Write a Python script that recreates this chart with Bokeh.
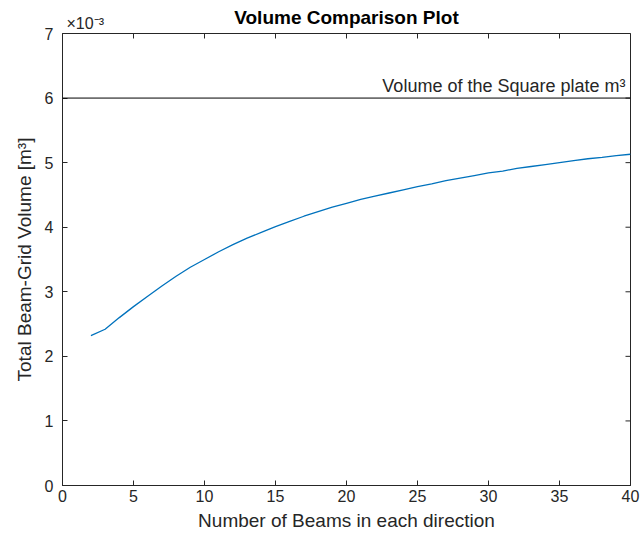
from bokeh.plotting import figure
from bokeh.models import Span, Label, Range1d, FixedTicker, LinearAxis
from bokeh.embed import file_html
from bokeh.resources import INLINE

# Data (volume in units of 1e-3 m^3)
beams = list(range(2, 41))
volume_e3 = [2.32, 2.42, 2.60, 2.77, 2.93, 3.09, 3.24, 3.38, 3.50, 3.62,
             3.73, 3.83, 3.92, 4.01, 4.09, 4.17, 4.24, 4.31, 4.37, 4.43,
             4.48, 4.53, 4.58, 4.63, 4.67, 4.72, 4.76, 4.80, 4.84, 4.87,
             4.91, 4.94, 4.97, 5.00, 5.03, 5.06, 5.08, 5.11, 5.13]
plate_volume_e3 = 6.0
x_ticks = [0, 5, 10, 15, 20, 25, 30, 35, 40]
y_ticks = [0, 1, 2, 3, 4, 5, 6, 7]
x_min, x_max = 0, 40
y_min, y_max = 0, 7
title_text = "Volume Comparison Plot"
exponent_text = "×10⁻³"
exponent_anchor = 1.6   # where the exponent marker is centred along the top edge

FONT = "Liberation Sans"
TXT = "#262626"

p = figure(width=643, height=542, output_backend="svg", toolbar_location=None,
           x_range=Range1d(x_min, x_max), y_range=Range1d(y_min, y_max),
           min_border_left=62, min_border_right=13, min_border_top=33,
           min_border_bottom=57)

p.xgrid.visible = False
p.ygrid.visible = False
p.outline_line_color = TXT
p.outline_line_width = 1
p.background_fill_color = "white"
p.border_fill_color = "white"

for ax in (p.xaxis[0], p.yaxis[0]):
    ax.major_tick_in = 5
    ax.major_tick_out = 0
    ax.minor_tick_in = 0
    ax.minor_tick_out = 0
    ax.axis_line_color = TXT
    ax.major_tick_line_color = TXT
    ax.major_label_text_font = FONT
    ax.major_label_text_font_size = "16px"
    ax.major_label_text_color = TXT
    ax.axis_label_text_font = FONT
    ax.axis_label_text_font_size = "19px"
    ax.axis_label_text_font_style = "normal"
    ax.axis_label_text_color = TXT

p.xaxis[0].ticker = FixedTicker(ticks=x_ticks)
p.yaxis[0].ticker = FixedTicker(ticks=y_ticks)
p.xaxis[0].axis_label = "Number of Beams in each direction"
p.yaxis[0].axis_label = "Total Beam-Grid Volume [m³]"
p.xaxis[0].major_label_standoff = 4
p.xaxis[0].axis_label_standoff = 5
p.yaxis[0].major_label_standoff = 9
p.yaxis[0].axis_label_standoff = 7

# top axis: carries the exponent marker (as its tick label) and the title (as its label)
top = LinearAxis(ticker=FixedTicker(ticks=[exponent_anchor]),
                 major_label_overrides={exponent_anchor: exponent_text},
                 major_label_text_font=FONT, major_label_text_font_size="16px",
                 major_label_text_color=TXT, major_label_standoff=2,
                 major_tick_in=0, major_tick_out=0, minor_tick_in=0, minor_tick_out=0,
                 axis_line_color=None,
                 axis_label=title_text, axis_label_text_font=FONT,
                 axis_label_text_font_size="19px", axis_label_text_font_style="bold",
                 axis_label_text_color="black", axis_label_standoff=-16)
p.add_layout(top, "above")

# inward ticks on the top and right edges (half of each dash is clipped by the frame)
p.scatter(x_ticks, [y_max] * len(x_ticks), marker="dash", angle=1.5708, size=10,
          line_color=TXT, line_width=1)
p.scatter([x_max] * len(y_ticks), y_ticks, marker="dash", size=10,
          line_color=TXT, line_width=1)

p.line(beams, volume_e3, line_color="#0072BD", line_width=1.3)

p.add_layout(Span(location=plate_volume_e3, dimension="width", line_color="black",
                  line_width=1))
p.add_layout(Label(x=x_max, y=plate_volume_e3, x_offset=-5, y_offset=2,
                   text="Volume of the Square plate m³", text_font=FONT,
                   text_font_size="18px", text_color=TXT, text_align="right",
                   text_baseline="bottom"))

open("out.html", "w").write(file_html(p, INLINE))
